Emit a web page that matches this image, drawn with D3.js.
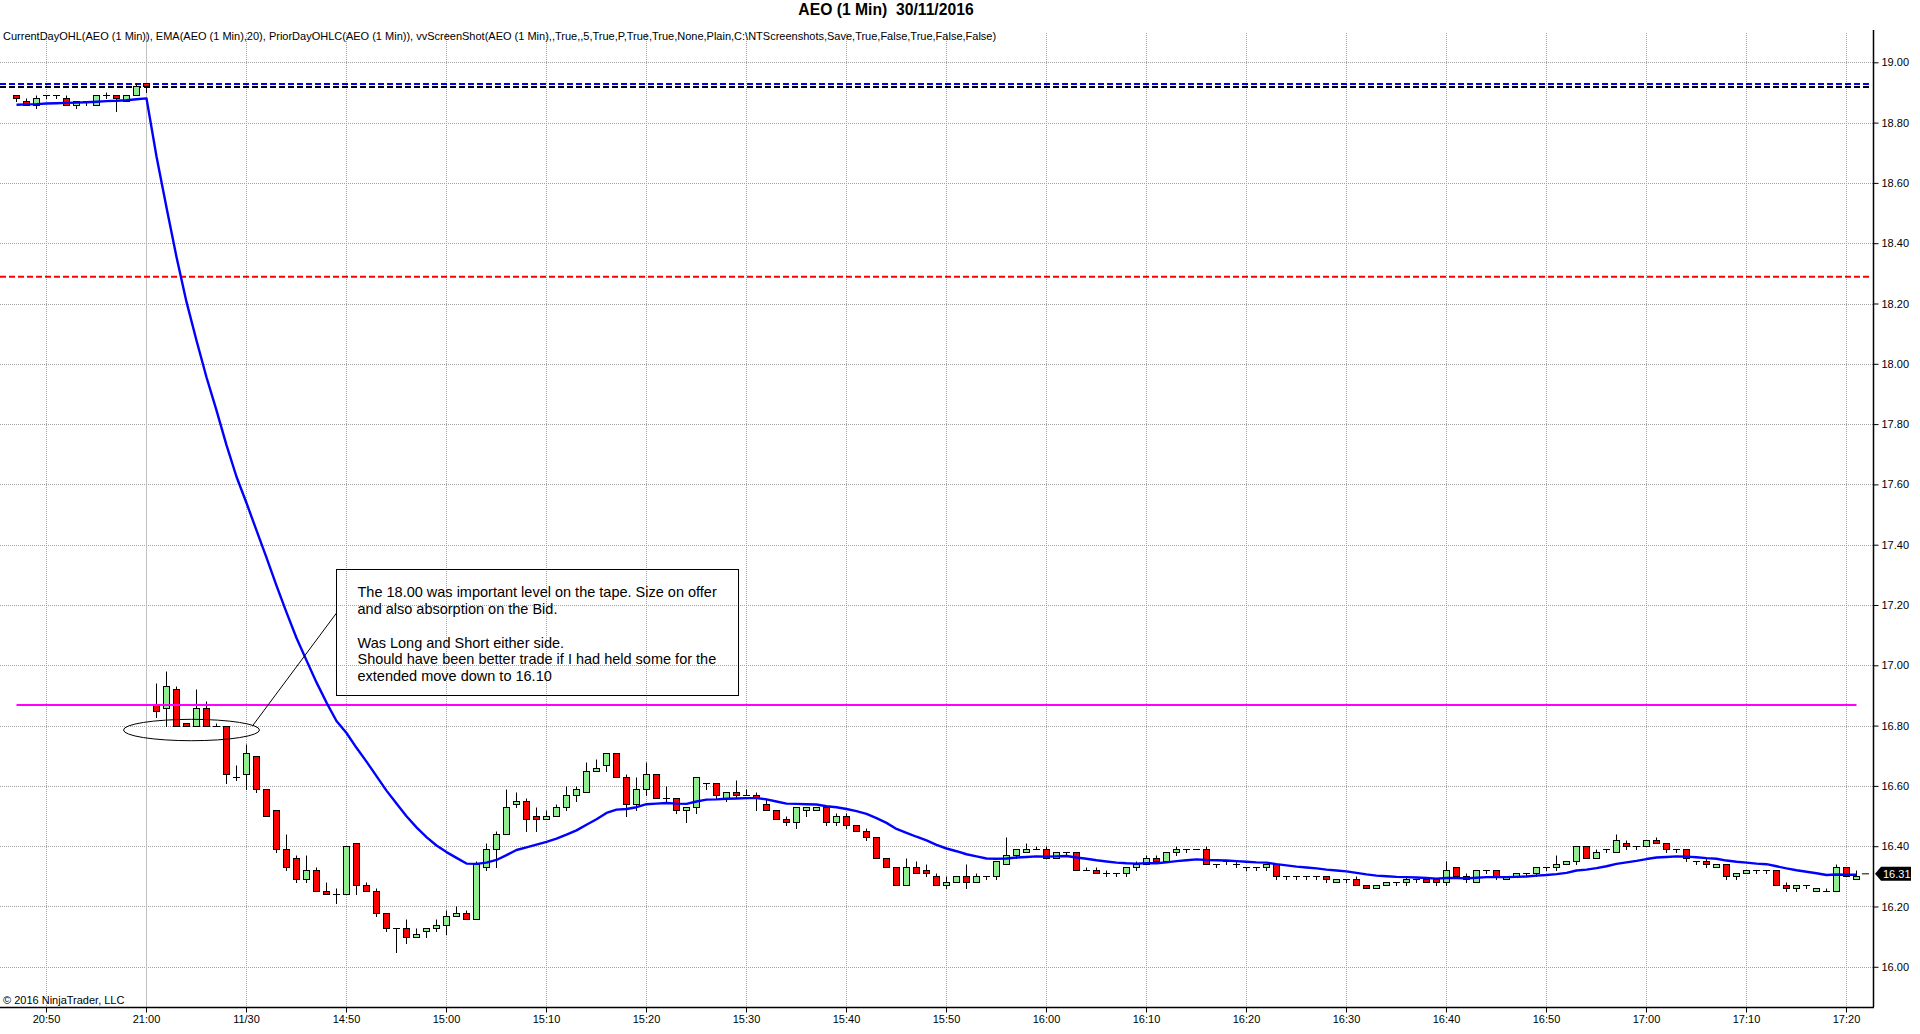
<!DOCTYPE html>
<html><head><meta charset="utf-8">
<script src="https://cdn.jsdelivr.net/npm/d3@7"></script>
<style>
body{margin:0;background:#fff;overflow:hidden;}
text{font-family:"Liberation Sans",Arial,sans-serif;}
</style>
</head><body>
<svg id="chart" width="1920" height="1034"></svg>
<script>
// ---------------- DATA ----------------
const times = [
"20:47","20:48","20:49","20:50","20:51","20:52","20:53","20:54","20:55","20:56","20:57","20:58","20:59","21:00",
"14:31","14:32","14:33","14:34","14:35","14:36","14:37","14:38","14:39","14:40",
"14:41","14:42","14:43","14:44","14:45","14:46","14:47","14:48","14:49","14:50",
"14:51","14:52","14:53","14:54","14:55","14:56","14:57","14:58","14:59","15:00",
"15:01","15:02","15:03","15:04","15:05","15:06","15:07","15:08","15:09","15:10",
"15:11","15:12","15:13","15:14","15:15","15:16","15:17","15:18","15:19","15:20",
"15:21","15:22","15:23","15:24","15:25","15:26","15:27","15:28","15:29","15:30",
"15:31","15:32","15:33","15:34","15:35","15:36","15:37","15:38","15:39","15:40",
"15:41","15:42","15:43","15:44","15:45","15:46","15:47","15:48","15:49","15:50",
"15:51","15:52","15:53","15:54","15:55","15:56","15:57","15:58","15:59","16:00",
"16:01","16:02","16:03","16:04","16:05","16:06","16:07","16:08","16:09","16:10",
"16:11","16:12","16:13","16:14","16:15","16:16","16:17","16:18","16:19","16:20",
"16:21","16:22","16:23","16:24","16:25","16:26","16:27","16:28","16:29","16:30",
"16:31","16:32","16:33","16:34","16:35","16:36","16:37","16:38","16:39","16:40",
"16:41","16:42","16:43","16:44","16:45","16:46","16:47","16:48","16:49","16:50",
"16:51","16:52","16:53","16:54","16:55","16:56","16:57","16:58","16:59","17:00",
"17:01","17:02","17:03","17:04","17:05","17:06","17:07","17:08","17:09","17:10",
"17:11","17:12","17:13","17:14","17:15","17:16","17:17","17:18","17:19","17:20",
"17:21"];

const opens = [
18.89,18.87,18.86,18.89,18.89,18.88,18.86,18.87,18.86,18.89,
18.89,18.87,18.89,18.93,16.87,16.86,16.92,16.81,16.80,16.86,
16.80,16.80,16.63,16.64,16.70,16.59,16.52,16.39,16.36,16.29,
16.32,16.25,16.24,16.24,16.41,16.27,16.25,16.18,16.13,16.13,
16.10,16.12,16.13,16.14,16.17,16.18,16.16,16.33,16.39,16.44,
16.54,16.55,16.50,16.49,16.50,16.53,16.57,16.58,16.65,16.67,
16.71,16.63,16.54,16.59,16.64,16.56,16.56,16.52,16.53,16.61,
16.61,16.56,16.58,16.57,16.57,16.54,16.52,16.49,16.48,16.52,
16.52,16.53,16.48,16.50,16.47,16.45,16.43,16.36,16.33,16.27,
16.33,16.32,16.30,16.27,16.28,16.30,16.28,16.30,16.30,16.34,
16.37,16.38,16.39,16.39,16.36,16.38,16.38,16.32,16.32,16.31,
16.31,16.31,16.33,16.34,16.36,16.35,16.38,16.39,16.39,16.39,
16.34,16.35,16.34,16.33,16.33,16.33,16.34,16.30,16.30,16.30,
16.30,16.30,16.28,16.29,16.29,16.27,16.26,16.27,16.28,16.28,
16.29,16.29,16.29,16.28,16.33,16.30,16.28,16.32,16.32,16.29,
16.30,16.31,16.31,16.33,16.33,16.34,16.35,16.40,16.36,16.39,
16.38,16.41,16.40,16.40,16.42,16.41,16.39,16.39,16.35,16.35,
16.33,16.34,16.30,16.31,16.32,16.32,16.32,16.27,16.26,16.27,
16.25,16.25,16.25,16.33,16.29];

const highs = [
18.89,18.88,18.89,18.89,18.89,18.89,18.87,18.87,18.89,18.90,
18.89,18.89,18.93,18.93,16.94,16.98,16.93,16.81,16.92,16.88,
16.81,16.80,16.67,16.74,16.70,16.59,16.52,16.44,16.37,16.37,
16.33,16.28,16.26,16.40,16.41,16.28,16.26,16.18,16.13,16.16,
16.13,16.13,16.16,16.19,16.20,16.19,16.35,16.41,16.45,16.59,
16.58,16.56,16.53,16.52,16.54,16.60,16.60,16.68,16.69,16.71,
16.71,16.64,16.63,16.68,16.64,16.60,16.56,16.53,16.63,16.61,
16.61,16.58,16.62,16.59,16.58,16.56,16.52,16.50,16.53,16.53,
16.53,16.53,16.51,16.51,16.47,16.46,16.43,16.36,16.33,16.36,
16.35,16.34,16.31,16.30,16.30,16.34,16.31,16.30,16.35,16.43,
16.39,16.41,16.40,16.40,16.38,16.38,16.38,16.33,16.33,16.32,
16.31,16.33,16.35,16.37,16.37,16.38,16.40,16.39,16.39,16.40,
16.34,16.35,16.35,16.33,16.33,16.34,16.34,16.30,16.30,16.30,
16.30,16.30,16.29,16.29,16.30,16.27,16.27,16.28,16.28,16.30,
16.29,16.29,16.29,16.35,16.33,16.31,16.32,16.32,16.32,16.30,
16.31,16.31,16.33,16.33,16.37,16.35,16.40,16.40,16.39,16.39,
16.44,16.42,16.40,16.42,16.43,16.41,16.39,16.39,16.35,16.36,
16.34,16.34,16.31,16.32,16.32,16.32,16.32,16.28,16.27,16.27,
16.26,16.26,16.34,16.33,16.32];

const lows = [
18.87,18.86,18.85,18.88,18.88,18.86,18.85,18.86,18.86,18.88,
18.84,18.87,18.89,18.90,16.83,16.80,16.80,16.80,16.80,16.80,
16.80,16.61,16.62,16.59,16.58,16.50,16.38,16.32,16.28,16.28,
16.25,16.24,16.21,16.24,16.24,16.25,16.17,16.12,16.05,16.08,
16.10,16.10,16.12,16.11,16.17,16.16,16.16,16.32,16.33,16.44,
16.53,16.45,16.45,16.49,16.50,16.52,16.55,16.58,16.65,16.65,
16.63,16.50,16.52,16.57,16.56,16.55,16.51,16.48,16.51,16.59,
16.56,16.55,16.56,16.57,16.52,16.52,16.49,16.47,16.46,16.50,
16.52,16.47,16.47,16.46,16.45,16.42,16.36,16.33,16.27,16.27,
16.31,16.30,16.27,16.26,16.28,16.26,16.28,16.29,16.29,16.34,
16.36,16.38,16.39,16.36,16.36,16.37,16.32,16.32,16.31,16.30,
16.30,16.30,16.32,16.34,16.35,16.35,16.37,16.38,16.39,16.34,
16.33,16.34,16.33,16.32,16.32,16.32,16.29,16.29,16.29,16.29,
16.29,16.28,16.28,16.28,16.27,16.26,16.26,16.27,16.27,16.27,
16.28,16.28,16.27,16.27,16.30,16.28,16.28,16.31,16.29,16.29,
16.30,16.30,16.30,16.32,16.32,16.34,16.34,16.36,16.36,16.38,
16.38,16.39,16.39,16.40,16.41,16.38,16.38,16.35,16.34,16.33,
16.33,16.29,16.29,16.31,16.31,16.31,16.27,16.25,16.25,16.26,
16.25,16.25,16.25,16.30,16.29];

const closes = [
18.88,18.86,18.88,18.89,18.89,18.86,18.87,18.87,18.89,18.89,
18.88,18.89,18.92,18.92,16.85,16.93,16.80,16.80,16.86,16.80,
16.80,16.64,16.63,16.71,16.59,16.50,16.39,16.33,16.29,16.32,
16.25,16.24,16.24,16.40,16.27,16.25,16.18,16.13,16.13,16.10,
16.11,16.13,16.14,16.17,16.18,16.16,16.34,16.39,16.44,16.53,
16.55,16.49,16.49,16.50,16.53,16.57,16.59,16.65,16.66,16.71,
16.63,16.54,16.59,16.64,16.56,16.56,16.52,16.53,16.63,16.61,
16.57,16.58,16.57,16.57,16.56,16.52,16.49,16.48,16.53,16.53,
16.53,16.48,16.50,16.47,16.45,16.43,16.36,16.33,16.27,16.33,
16.31,16.31,16.27,16.28,16.30,16.28,16.30,16.30,16.35,16.37,
16.39,16.39,16.39,16.36,16.38,16.38,16.32,16.32,16.31,16.31,
16.31,16.33,16.34,16.36,16.35,16.38,16.39,16.39,16.39,16.34,
16.34,16.35,16.34,16.33,16.33,16.34,16.30,16.30,16.30,16.30,
16.30,16.29,16.29,16.29,16.27,16.26,16.27,16.28,16.28,16.29,
16.29,16.28,16.28,16.32,16.30,16.29,16.32,16.32,16.30,16.30,
16.31,16.31,16.33,16.33,16.34,16.35,16.40,16.36,16.38,16.39,
16.42,16.40,16.40,16.42,16.41,16.39,16.39,16.36,16.35,16.34,
16.34,16.30,16.31,16.32,16.32,16.32,16.27,16.26,16.27,16.27,
16.26,16.25,16.33,16.30,16.30];

// EMA(20) values
const ema = [
18.861,18.862,18.863,18.865,18.866,18.867,18.868,18.869,18.871,18.873,
18.874,18.876,18.879,18.882,18.689,18.520,18.356,18.207,18.079,17.957,
17.847,17.732,17.627,17.540,17.449,17.359,17.266,17.177,17.092,17.018,
16.945,16.878,16.817,16.777,16.728,16.682,16.634,16.586,16.543,16.501,
16.464,16.432,16.404,16.382,16.363,16.344,16.343,16.347,16.356,16.372,
16.389,16.398,16.407,16.416,16.427,16.440,16.454,16.473,16.491,16.512,
16.523,16.525,16.531,16.541,16.543,16.545,16.543,16.542,16.550,16.556,
16.557,16.559,16.560,16.561,16.561,16.557,16.550,16.543,16.542,16.541,
16.540,16.534,16.531,16.525,16.518,16.509,16.495,16.479,16.459,16.446,
16.433,16.421,16.406,16.394,16.385,16.375,16.368,16.361,16.360,16.361,
16.364,16.366,16.368,16.367,16.368,16.369,16.364,16.360,16.355,16.351,
16.347,16.345,16.344,16.345,16.345,16.348,16.352,16.355,16.358,16.356,
16.355,16.354,16.352,16.350,16.348,16.347,16.342,16.338,16.334,16.331,
16.328,16.324,16.321,16.318,16.313,16.308,16.304,16.302,16.300,16.299,
16.298,16.296,16.294,16.296,16.296,16.295,16.297,16.299,16.299,16.299,
16.300,16.301,16.304,16.306,16.309,16.313,16.321,16.324,16.329,16.335,
16.343,16.348,16.353,16.359,16.364,16.366,16.368,16.367,16.365,16.362,
16.360,16.354,16.350,16.347,16.344,16.342,16.335,16.328,16.322,16.317,
16.312,16.306,16.308,16.307,16.307];

const priceTicks = [16.00,16.20,16.40,16.60,16.80,17.00,17.20,17.40,17.60,17.80,18.00,18.20,18.40,18.60,18.80,19.00];
const timeTicks = ["20:50","21:00","14:40","14:50","15:00","15:10","15:20","15:30","15:40","15:50","16:00","16:10","16:20","16:30","16:40","16:50","17:00","17:10","17:20"];
const timeTickLabels = ["20:50","21:00","11/30","14:50","15:00","15:10","15:20","15:30","15:40","15:50","16:00","16:10","16:20","16:30","16:40","16:50","17:00","17:10","17:20"];
const sessionBreak = "21:00";

const priorDayHigh = 18.93;
const priorDayClose = 18.92;
const priorDayLow = 18.29;
const currentDayOpen = 16.87;
const lastPrice = 16.31;

const titleText = "AEO (1 Min)  30/11/2016";
const indicatorText = "CurrentDayOHL(AEO (1 Min)), EMA(AEO (1 Min),20), PriorDayOHLC(AEO (1 Min)), vvScreenShot(AEO (1 Min),,True,,5,True,P,True,True,None,Plain,C:\\NTScreenshots,Save,True,False,True,False,False)";
const copyrightText = "\u00A9 2016 NinjaTrader, LLC";
const noteLines = [
  "The 18.00 was important level on the tape. Size on offer",
  "and also absorption on the Bid.",
  "",
  "Was Long and Short either side.",
  "Should have been better trade if I had held some for the",
  "extended move down to 16.10"
];
// annotation anchors in data space (bar index, price)
const noteBoxBars = [32, 72.2];
const noteBoxPrices = [17.32, 16.902];
const ellipseCenter = [17.5, 16.787];
const connectorStart = [23.65, 16.803];
const connectorEndPrice = 17.175;

// ---------------- LAYOUT ----------------
const W = 1920, H = 1034;
const plot = {left: 0, right: 1873, top: 30, bottom: 1007};
const FONT = '"Liberation Sans", Arial, sans-serif';

const svg = d3.select("#chart");
svg.append("rect").attr("width", W).attr("height", H).attr("fill", "#fff");

const x = d3.scalePoint().domain(times).range([16.5, 1856.5]);
const xi = d3.scaleLinear().domain([0, times.length - 1]).range([16.5, 1856.5]);
const y = d3.scaleLinear().domain([15.8683, 19.1088]).range([plot.bottom, plot.top]);
const snap = v => Math.round(v - 0.5) + 0.5;

// grid
const grid = svg.append("g");
grid.selectAll("line.h").data(priceTicks).join("line")
  .attr("x1", plot.left).attr("x2", plot.right)
  .attr("y1", d => snap(y(d))).attr("y2", d => snap(y(d)))
  .attr("stroke", "#a0a0a0").attr("stroke-width", 1).attr("stroke-dasharray", "1,1");
grid.selectAll("line.v").data(timeTicks).join("line")
  .attr("x1", d => x(d)).attr("x2", d => x(d))
  .attr("y1", 33).attr("y2", plot.bottom)
  .attr("stroke", d => d === sessionBreak ? "#c0c0c0" : "#a0a0a0")
  .attr("stroke-width", 1)
  .attr("stroke-dasharray", d => d === sessionBreak ? null : "1,1");

// prior day levels (dashed)
const levels = [
  {v: priorDayHigh, c: "#0000ff"},
  {v: priorDayClose, c: "#000000"},
  {v: priorDayLow, c: "#ff0000"}
];
svg.append("g").selectAll("line").data(levels).join("line")
  .attr("x1", 0).attr("x2", 1870)
  .attr("y1", d => y(d.v)).attr("y2", d => y(d.v))
  .attr("stroke", d => d.c).attr("stroke-width", 2).attr("stroke-dasharray", "6,3");

// candles
const bars = times.map((t, i) => ({t, o: opens[i], h: highs[i], l: lows[i], c: closes[i]}));
const cg = svg.append("g");
cg.selectAll("line.wick").data(bars).join("line")
  .attr("x1", d => x(d.t)).attr("x2", d => x(d.t))
  .attr("y1", d => snap(y(d.h))).attr("y2", d => snap(y(d.l)) + 0.5)
  .attr("stroke", "#000").attr("stroke-width", 1);
cg.selectAll("rect.body").data(bars.filter(d => d.o !== d.c)).join("rect")
  .attr("x", d => x(d.t) - 3)
  .attr("width", 6)
  .attr("y", d => snap(y(Math.max(d.o, d.c))))
  .attr("height", d => Math.max(1, snap(y(Math.min(d.o, d.c))) - snap(y(Math.max(d.o, d.c)))))
  .attr("fill", d => d.c > d.o ? "#90ee90" : "#ff0000")
  .attr("stroke", "#000").attr("stroke-width", 1);
cg.selectAll("line.doji").data(bars.filter(d => d.o === d.c)).join("line")
  .attr("x1", d => x(d.t) - 3.5).attr("x2", d => x(d.t) + 3.5)
  .attr("y1", d => snap(y(d.o))).attr("y2", d => snap(y(d.o)))
  .attr("stroke", "#000").attr("stroke-width", 1);

// current day open (magenta)
svg.append("line")
  .attr("x1", x(times[0])).attr("x2", x(times[times.length - 1]))
  .attr("y1", y(currentDayOpen)).attr("y2", y(currentDayOpen))
  .attr("stroke", "#ff00ff").attr("stroke-width", 2);

// EMA
svg.append("path")
  .datum(ema)
  .attr("fill", "none").attr("stroke", "#0000ff").attr("stroke-width", 2.4)
  .attr("stroke-linejoin", "round")
  .attr("d", d3.line().x((d, i) => x(times[i])).y(d => y(d)));

// annotation: ellipse, connector, text box
const ann = svg.append("g");
ann.append("ellipse")
  .attr("cx", xi(ellipseCenter[0])).attr("cy", y(ellipseCenter[1]))
  .attr("rx", 68).attr("ry", 10.7)
  .attr("fill", "none").attr("stroke", "#000").attr("stroke-width", 1);
const bx0 = xi(noteBoxBars[0]), bx1 = xi(noteBoxBars[1]);
const by0 = y(noteBoxPrices[0]), by1 = y(noteBoxPrices[1]);
ann.append("line")
  .attr("x1", xi(connectorStart[0])).attr("y1", y(connectorStart[1]))
  .attr("x2", bx0).attr("y2", y(connectorEndPrice))
  .attr("stroke", "#000").attr("stroke-width", 1);
ann.append("rect")
  .attr("x", snap(bx0)).attr("y", snap(by0))
  .attr("width", Math.round(bx1 - bx0)).attr("height", Math.round(by1 - by0))
  .attr("fill", "none").attr("stroke", "#000").attr("stroke-width", 1);
ann.append("g").selectAll("text").data(noteLines).join("text")
  .attr("x", bx0 + 21)
  .attr("y", (d, i) => by0 + 27.5 + i * 16.9)
  .attr("font-family", FONT).attr("font-size", 14.5).attr("fill", "#000")
  .text(d => d);

// right axis
const yAxis = d3.axisRight(y).tickValues(priceTicks).tickFormat(d3.format(".2f"))
  .tickSize(5).tickSizeOuter(0).offset(0);
const ya = svg.append("g").attr("transform", `translate(${plot.right + 0.5},0)`).call(yAxis);
ya.attr("font-family", FONT).attr("font-size", 11);
ya.select(".domain").attr("stroke", "#000").attr("stroke-width", 1.5);
ya.selectAll(".tick line").attr("stroke", "#000");
ya.selectAll(".tick text").attr("fill", "#000").attr("x", 8);

// bottom axis
const xAxis = d3.axisBottom(x).tickValues(timeTicks)
  .tickFormat((d, i) => timeTickLabels[i]).tickSize(5).tickSizeOuter(0).offset(0);
const xa = svg.append("g").attr("transform", `translate(0,${plot.bottom + 0.5})`).call(xAxis);
xa.attr("font-family", FONT).attr("font-size", 11);
xa.select(".domain").remove();
xa.selectAll(".tick line").attr("stroke", "#000");
xa.selectAll(".tick text").attr("fill", "#000");
svg.append("line").attr("x1", plot.left).attr("x2", plot.right + 1)
  .attr("y1", plot.bottom + 0.5).attr("y2", plot.bottom + 0.5)
  .attr("stroke", "#000").attr("stroke-width", 1.5);

// last price marker
const ly = y(lastPrice);
svg.append("line").attr("x1", 1862).attr("x2", 1869).attr("y1", ly).attr("y2", ly)
  .attr("stroke", "#000").attr("stroke-width", 1);
svg.append("path")
  .attr("d", `M${plot.right + 2},${ly} L${plot.right + 8},${ly - 7} L${plot.right + 38},${ly - 7} L${plot.right + 38},${ly + 7} L${plot.right + 8},${ly + 7} Z`)
  .attr("fill", "#000");
svg.append("text").attr("x", plot.right + 10).attr("y", ly + 4)
  .attr("font-family", FONT).attr("font-size", 11).attr("fill", "#fff")
  .text(d3.format(".2f")(lastPrice));

// texts
svg.append("text").attr("x", 886).attr("y", 15).attr("text-anchor", "middle")
  .attr("font-family", FONT).attr("font-size", 15.7).attr("font-weight", "bold")
  .style("white-space", "pre").text(titleText);
svg.append("text").attr("x", 3).attr("y", 40)
  .attr("font-family", FONT).attr("font-size", 11).attr("fill", "#000")
  .text(indicatorText);
svg.append("text").attr("x", 3).attr("y", 1004)
  .attr("font-family", FONT).attr("font-size", 11).attr("fill", "#000")
  .text(copyrightText);
</script>
</body></html>
